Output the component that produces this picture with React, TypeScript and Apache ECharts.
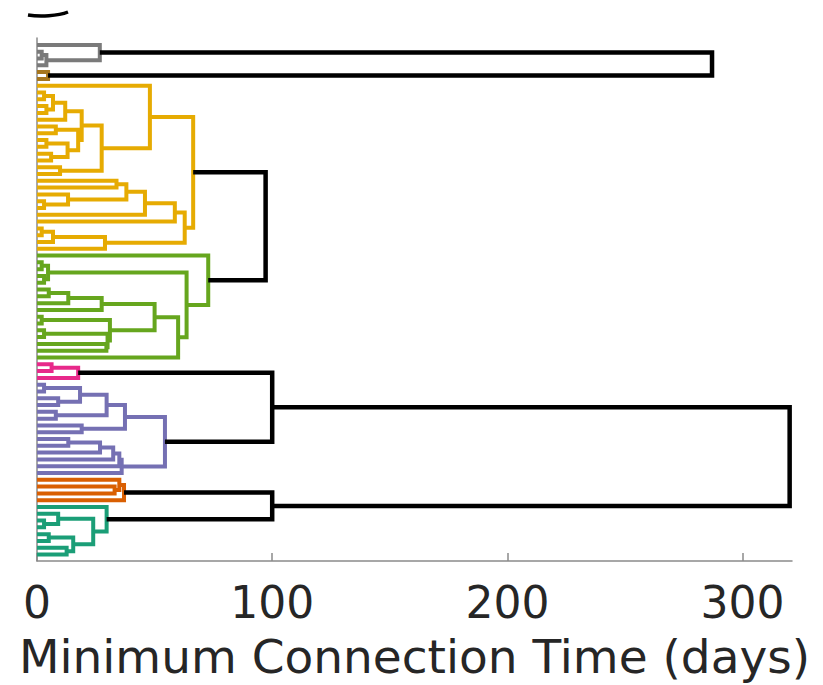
import React, { useEffect, useRef } from "react";
import * as echarts from "echarts";

// Dendrogram data. A node is [linkHeight, left, right]; a leaf is 0; a string refers to a cluster.
const greyTree = [26.7, 0, [4, [2, 0, 0], 0]];
const brownTree = [4.7, 0, 0];
const yellowTree = [
  66.4,
  [48, 0, [27.5, [19, [12, [6.8, [3, 0, 0], [4, 0, 0]], 0], [17.5, [8, 0, 0], [13, [4, 0, 0], [6, 0, 0]]]], [9.8, 0, 0]]],
  [62.8, [58.6, [45.9, [38, [33.8, 0, 0], [13.2, 0, [3, 0, 0]]], 0], 0], [28.9, [6.8, [2, 0, 0], 0], 0]],
];
const greenTree = [
  72.8,
  0,
  [63.6, [4.7, [2, 0, 0], [3, 0, 0]], [60, [50, [27.5, [13.3, [5, 0, 0], 0], 0], [31, [2, 0, 0], [30, [3, 0, 0], [29.5, 0, 0]]]], 0]],
];
const pinkTree = [17.5, [6.2, 0, 0], 0];
const purpleTree = [
  54.4,
  [37.4, [29.6, [18.3, [3, 0, 0], [9, 0, 0]], [8, 0, 0]], [19, 0, 0]],
  [36, [35, [32.4, [26.8, [13.3, 0, 0], 0], 0], 0], 0],
];
const orangeTree = [37, [35, 0, [33, 0, 0]], 0];
const tealTree = [29.6, 0, [23.9, [9, 0, [3, 0, 0]], [15.4, [5, 0, 0], [12.6, 0, 0]]]];

const clusterNames = ["grey", "brown", "yellow", "green", "pink", "purple", "orange", "teal"];
const clusterTrees: any[] = [greyTree, brownTree, yellowTree, greenTree, pinkTree, purpleTree, orangeTree, tealTree];
const clusterColors = ["#7a7a7a", "#a6761d", "#e6ab02", "#66a61e", "#e7298a", "#7570b3", "#d95f02", "#1b9e77"];
const topTrees: any[] = [
  [287, "grey", "brown"],
  [97.2, "yellow", "green"],
  [320, [100, "pink", "purple"], [100, "orange", "teal"]],
];
const xTicks = [0, 100, 200, 300];
const xMax = 321;
const xTitle = "Minimum Connection Time (days)";

function buildLinks() {
  let leaf = 0;
  const links: number[][] = [];
  const walk = (node: any, color: number): { y: number; h: number } => {
    if (typeof node === "string") {
      const idx = clusterNames.indexOf(node);
      return walk(clusterTrees[idx], idx);
    }
    if (!Array.isArray(node)) {
      const y = leaf++;
      return { y, h: 0 };
    }
    const [h, a, b] = node;
    const ra = walk(a, color);
    const rb = walk(b, color);
    links.push([h, ra.y, ra.h, rb.y, rb.h, color]);
    return { y: (ra.y + rb.y) / 2, h };
  };
  topTrees.forEach((t) => walk(t, -1));
  return { links, leafCount: leaf };
}

export default function App() {
  const ref = useRef<HTMLDivElement>(null);
  useEffect(() => {
    if (!ref.current) return;
    const chart = echarts.init(ref.current, null, { renderer: "svg" });
    const { links, leafCount } = buildLinks();
    const font = "DejaVu Sans";
    chart.setOption({
      animation: false,
      grid: { left: 37, right: 31, top: 38, bottom: 118, containLabel: false },
      xAxis: {
        type: "value",
        position: "bottom",
        min: 0,
        max: xMax,
        interval: 100,
        name: xTitle,
        nameLocation: "middle",
        nameGap: 72,
        nameTextStyle: { fontFamily: font, fontSize: 47, color: "#262626" },
        axisLine: { show: true, onZero: false, lineStyle: { color: "#8a8a8a", width: 1.5 } },
        axisTick: { show: true, inside: true, length: 8, customValues: xTicks, lineStyle: { color: "#8a8a8a", width: 1.5 } },
        axisLabel: { customValues: xTicks, fontFamily: font, fontSize: 44, color: "#262626", margin: 19 },
        splitLine: { show: false },
      },
      yAxis: {
        type: "value",
        inverse: true,
        min: -1.02,
        max: leafCount - 1 + 0.95,
        axisLine: { show: true, onZero: false, lineStyle: { color: "#8a8a8a", width: 1.5 } },
        axisTick: { show: false },
        axisLabel: { show: false },
        splitLine: { show: false },
      },
      graphic: [
        {
          type: "bezierCurve",
          shape: { x1: 28, y1: 15, cpx1: 40, cpy1: 17, cpx2: 58, cpy2: 16, x2: 68, y2: 12 },
          style: { stroke: "#000", lineWidth: 3.5, fill: null },
        },
      ],
      series: [
        {
          type: "custom",
          data: links,
          encode: { x: [0, 2, 4], y: [1, 3] },
          renderItem: (params: any, api: any) => {
            const h = api.value(0);
            const ya = api.value(1);
            const ha = api.value(2);
            const yb = api.value(3);
            const hb = api.value(4);
            const ci = api.value(5);
            const pts = [api.coord([ha, ya]), api.coord([h, ya]), api.coord([h, yb]), api.coord([hb, yb])];
            return {
              type: "polyline",
              shape: { points: pts },
              style: { stroke: ci < 0 ? "#000000" : clusterColors[ci], lineWidth: ci < 0 ? 4.5 : 4, fill: null, lineJoin: "miter" },
            };
          },
        },
      ],
    });
    return () => chart.dispose();
  }, []);
  return <div ref={ref} style={{ position: "fixed", left: 0, top: 0, width: 823, height: 685, background: "#fff" }} />;
}
